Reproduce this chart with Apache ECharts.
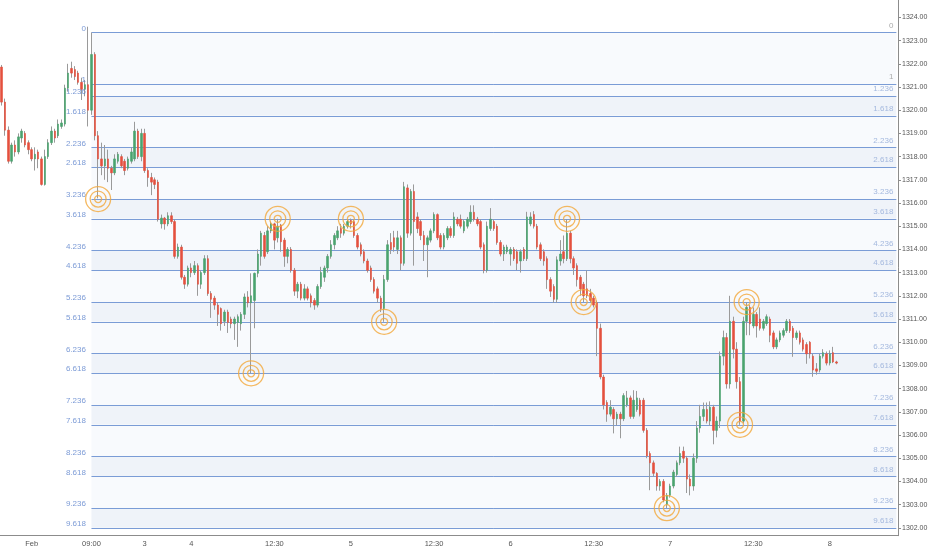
<!DOCTYPE html>
<html>
<head>
<meta charset="utf-8">
<script src="https://cdn.jsdelivr.net/npm/echarts@6/dist/echarts.min.js"></script>
<style>
  html, body { margin: 0; padding: 0; background: #fff; }
  #chart { width: 932px; height: 550px; }
</style>
</head>
<body>
<div id="chart"></div>
<script>
// 30 分钟 K 线：[开, 收, 低, 高]
var candles = [
  [1321.86,1320.35,1320.2,1321.95],[1320.35,1319.14,1318.9,1320.5],[1319.14,1317.8,1317.7,1319.3],
  [1317.8,1318.5,1317.7,1318.6],[1318.5,1318.2,1318.0,1318.7],[1318.2,1318.85,1318.1,1319.0],
  [1318.8,1319.1,1318.6,1319.2],[1319.0,1318.5,1318.4,1319.1],[1318.6,1318.3,1318.1,1318.7],
  [1318.3,1317.9,1317.8,1318.4],[1317.9,1318.1,1317.4,1318.4],[1318.2,1317.9,1317.5,1318.3],
  [1317.9,1316.8,1316.75,1318.0],[1316.8,1318.0,1316.75,1318.3],[1318.0,1318.6,1317.9,1318.75],
  [1318.6,1319.1,1318.5,1319.3],[1319.1,1318.8,1318.6,1319.2],[1318.9,1319.4,1318.8,1319.6],
  [1319.3,1319.45,1319.2,1319.6],[1319.4,1320.95,1319.3,1321.1],[1320.95,1321.6,1320.8,1322.0],
  [1321.8,1321.6,1321.4,1322.09],[1321.75,1321.45,1321.3,1321.9],[1321.6,1321.2,1321.1,1321.7],
  [1321.2,1320.9,1320.44,1321.4],[1320.9,1321.1,1320.6,1321.3],[1321.1,1320.0,1319.3,1323.6],
  [1320.0,1322.4,1319.8,1323.35],[1322.4,1318.9,1318.7,1322.5],[1318.9,1317.9,1316.2,1319.1],
  [1317.9,1317.6,1317.2,1318.6],[1317.6,1317.9,1317.0,1318.5],[1317.9,1317.5,1316.9,1318.3],
  [1317.5,1317.3,1316.56,1317.6],[1317.3,1317.9,1317.2,1318.1],[1317.8,1318.1,1317.7,1318.2],
  [1318.0,1317.6,1317.5,1318.1],[1317.8,1317.4,1317.2,1317.9],[1317.5,1317.9,1317.4,1318.0],
  [1317.8,1318.2,1317.7,1318.4],[1317.9,1319.1,1317.8,1319.5],[1319.1,1318.0,1317.9,1319.2],
  [1318.0,1319.0,1317.8,1319.2],[1319.0,1317.4,1317.3,1319.2],[1317.4,1317.1,1316.7,1317.5],
  [1317.1,1316.9,1316.34,1317.3],[1317.0,1316.8,1316.6,1317.1],[1316.9,1315.3,1315.2,1317.0],
  [1315.1,1315.35,1314.9,1315.5],[1315.35,1315.1,1314.85,1315.4],[1315.1,1315.45,1315.0,1315.6],
  [1315.45,1315.2,1315.1,1315.6],[1315.2,1313.7,1313.6,1315.3],[1313.7,1314.1,1313.6,1314.25],
  [1314.1,1312.8,1312.7,1314.2],[1312.8,1312.5,1312.3,1312.9],[1312.5,1313.2,1312.4,1313.3],
  [1313.2,1313.0,1312.8,1313.4],[1313.0,1313.3,1312.9,1313.5],[1313.3,1312.5,1312.0,1313.4],
  [1312.5,1313.0,1312.3,1313.1],[1313.0,1313.6,1312.9,1313.75],[1313.6,1312.1,1312.0,1313.75],
  [1312.1,1311.85,1311.05,1312.2],[1311.9,1311.6,1311.4,1312.0],[1311.6,1311.2,1310.7,1311.7],
  [1311.45,1310.8,1310.5,1311.5],[1310.9,1311.3,1310.7,1311.4],[1311.3,1310.85,1310.4,1311.4],
  [1311.0,1310.8,1310.6,1311.1],[1310.8,1311.0,1310.1,1311.1],[1310.85,1311.1,1309.8,1311.2],
  [1310.8,1311.2,1310.5,1311.3],[1311.2,1311.95,1311.0,1312.1],[1311.95,1311.7,1311.5,1312.2],
  [1311.7,1312.0,1308.66,1312.97],[1311.8,1312.97,1310.6,1313.0],[1312.97,1313.8,1312.8,1314.0],
  [1313.7,1314.7,1313.3,1314.8],[1314.6,1313.7,1313.6,1314.75],[1313.9,1314.8,1313.8,1315.0],
  [1314.8,1315.1,1314.7,1315.2],[1315.1,1314.4,1314.0,1315.15],[1314.5,1315.0,1314.3,1315.32],
  [1315.05,1314.33,1313.9,1315.1],[1314.4,1313.7,1313.25,1314.5],[1313.7,1314.0,1313.4,1314.1],
  [1314.0,1313.1,1313.0,1314.1],[1313.1,1312.2,1312.0,1313.2],[1312.2,1312.5,1311.9,1312.6],
  [1312.5,1311.9,1311.8,1312.6],[1311.9,1312.3,1311.8,1312.5],[1312.3,1311.9,1311.8,1312.4],
  [1312.0,1311.7,1311.5,1312.1],[1311.8,1311.6,1311.4,1311.9],[1311.6,1312.4,1311.5,1312.5],
  [1312.4,1313.0,1312.3,1313.25],[1312.8,1313.2,1312.6,1313.3],[1313.2,1313.7,1313.0,1313.8],
  [1313.7,1314.2,1313.6,1314.4],[1314.2,1314.6,1314.0,1314.7],[1314.5,1314.8,1314.4,1315.0],
  [1314.9,1314.7,1314.5,1315.1],[1314.7,1315.0,1314.6,1315.1],[1315.0,1315.2,1314.9,1315.3],
  [1315.25,1315.1,1314.9,1315.33],[1315.2,1314.6,1314.5,1315.3],[1314.6,1314.1,1314.0,1314.7],
  [1314.2,1313.8,1313.7,1314.3],[1313.9,1313.5,1313.4,1314.0],[1313.5,1313.1,1313.0,1313.6],
  [1313.2,1312.7,1312.6,1313.3],[1312.7,1312.2,1312.1,1312.8],[1312.3,1311.9,1311.7,1312.4],
  [1311.9,1311.45,1311.3,1312.0],[1311.45,1312.7,1310.88,1312.9],[1312.7,1314.2,1312.6,1314.4],
  [1314.3,1314.0,1313.8,1314.7],[1314.5,1314.1,1313.9,1314.8],[1314.0,1314.5,1313.8,1314.8],
  [1314.5,1313.4,1313.1,1314.6],[1313.4,1316.7,1313.3,1316.91],[1316.65,1314.7,1314.5,1316.8],
  [1314.7,1316.5,1314.6,1316.6],[1316.5,1315.2,1313.3,1316.8],[1315.4,1314.9,1314.7,1315.6],
  [1315.2,1314.6,1314.4,1315.3],[1314.6,1314.2,1313.5,1314.8],[1314.2,1314.5,1312.8,1314.6],
  [1314.4,1314.8,1314.3,1314.9],[1314.8,1315.5,1314.7,1315.6],[1315.5,1314.5,1314.4,1315.55],
  [1314.6,1314.1,1314.0,1314.7],[1314.1,1314.6,1314.0,1314.7],[1314.5,1314.9,1314.4,1315.0],
  [1314.9,1314.6,1314.5,1315.0],[1314.6,1315.4,1314.5,1315.6],[1315.3,1315.1,1315.0,1315.4],
  [1315.3,1315.0,1314.9,1315.5],[1314.8,1315.2,1314.7,1315.3],[1315.0,1315.3,1314.9,1315.4],
  [1315.2,1315.6,1315.1,1315.9],[1315.6,1315.3,1315.2,1315.9],[1315.3,1315.1,1315.0,1315.4],
  [1315.2,1314.1,1314.0,1315.3],[1314.2,1313.1,1312.97,1314.3],[1313.1,1315.0,1313.0,1315.2],
  [1314.9,1315.3,1314.8,1315.78],[1315.2,1314.9,1314.8,1315.3],[1315.0,1314.3,1314.2,1315.1],
  [1314.3,1313.8,1313.7,1314.4],[1313.8,1314.1,1313.5,1314.2],[1313.9,1314.1,1313.8,1314.2],
  [1313.8,1314.0,1313.3,1314.1],[1314.0,1313.6,1313.5,1314.1],[1313.9,1313.4,1313.1,1314.0],
  [1313.5,1313.9,1313.0,1314.0],[1314.0,1313.6,1313.5,1314.1],[1313.6,1315.4,1313.5,1315.62],
  [1315.1,1315.4,1315.0,1315.6],[1315.5,1315.0,1314.9,1315.65],[1315.0,1314.1,1314.0,1315.1],
  [1314.2,1313.6,1313.5,1314.3],[1313.9,1313.5,1313.3,1314.0],[1313.6,1312.7,1312.3,1313.7],
  [1312.7,1312.2,1311.95,1312.8],[1312.4,1311.85,1311.7,1312.5],[1311.85,1313.55,1311.7,1313.7],
  [1313.5,1313.8,1313.3,1314.4],[1313.9,1313.6,1313.4,1314.6],[1313.6,1314.7,1313.5,1315.3],
  [1314.7,1313.6,1313.4,1314.8],[1313.6,1313.2,1312.9,1313.7],[1313.3,1312.7,1312.4,1313.4],
  [1312.8,1312.3,1312.0,1312.9],[1312.5,1312.0,1311.73,1312.6],[1312.3,1312.0,1311.9,1313.1],
  [1312.1,1311.8,1311.7,1312.3],[1311.9,1311.6,1311.5,1312.0],[1311.7,1310.6,1309.4,1311.8],
  [1310.6,1308.5,1308.4,1310.8],[1308.5,1307.3,1307.1,1308.6],[1307.4,1306.9,1306.57,1307.5],
  [1306.9,1307.2,1306.8,1307.5],[1307.1,1306.7,1306.07,1307.2],[1306.7,1306.9,1306.4,1307.0],
  [1306.9,1306.7,1305.86,1307.0],[1306.7,1307.7,1306.6,1307.8],[1307.3,1307.6,1307.2,1307.9],
  [1307.6,1306.8,1306.7,1307.7],[1306.8,1307.5,1306.7,1307.93],[1307.1,1307.6,1307.0,1307.9],
  [1307.5,1306.9,1306.8,1307.6],[1307.5,1306.2,1306.1,1307.6],[1306.2,1305.1,1305.0,1306.3],
  [1305.2,1304.8,1303.62,1305.3],[1304.8,1304.35,1304.2,1304.9],[1304.35,1303.8,1303.6,1304.4],
  [1303.8,1304.0,1303.6,1304.1],[1304.0,1303.2,1303.1,1304.1],[1303.0,1303.4,1302.85,1303.5],
  [1303.4,1303.8,1303.3,1303.9],[1303.8,1304.4,1303.7,1304.5],[1304.3,1304.8,1304.2,1304.9],
  [1304.8,1305.2,1304.7,1305.5],[1305.3,1305.0,1304.8,1305.5],[1305.0,1304.1,1303.5,1305.1],
  [1304.1,1303.8,1303.4,1304.3],[1303.8,1305.0,1303.6,1305.2],[1305.0,1306.3,1304.8,1306.6],
  [1306.3,1306.8,1306.1,1307.3],[1306.8,1307.1,1306.6,1307.4],[1307.1,1306.6,1306.5,1307.4],
  [1306.6,1307.2,1306.4,1307.45],[1307.2,1306.2,1305.6,1307.3],[1306.2,1306.6,1305.9,1306.8],
  [1306.6,1309.4,1306.3,1309.6],[1309.4,1310.2,1309.0,1310.5],[1310.2,1308.2,1308.0,1310.4],
  [1308.2,1310.9,1308.0,1312.0],[1310.9,1309.7,1309.3,1311.1],[1309.7,1308.3,1308.0,1310.0],
  [1308.3,1306.6,1306.44,1308.5],[1306.6,1310.9,1306.5,1311.1],[1310.9,1311.5,1310.3,1311.73],
  [1311.5,1310.8,1310.3,1311.6],[1310.7,1311.2,1310.6,1311.5],[1311.2,1310.7,1310.2,1311.3],
  [1311.0,1310.6,1310.5,1311.5],[1310.6,1310.9,1310.5,1311.0],[1310.8,1311.1,1310.7,1311.2],
  [1311.0,1310.3,1310.0,1311.1],[1310.4,1309.8,1309.7,1310.5],[1309.8,1310.1,1309.7,1310.2],
  [1310.1,1310.4,1310.0,1310.5],[1310.3,1310.5,1310.2,1310.6],[1310.5,1310.9,1310.4,1311.0],
  [1310.9,1310.5,1310.4,1311.0],[1310.6,1310.2,1309.37,1310.7],[1310.2,1310.4,1310.1,1310.5],
  [1310.4,1310.0,1309.9,1310.5],[1310.1,1309.7,1309.6,1310.2],[1309.9,1309.5,1309.07,1310.0],
  [1310.0,1309.5,1309.3,1310.05],[1309.4,1308.8,1308.51,1309.5],[1308.85,1308.75,1308.6,1309.1],
  [1308.8,1309.4,1308.7,1309.5],[1309.4,1309.55,1309.3,1309.7],[1309.5,1309.1,1309.0,1309.6],
  [1309.1,1309.5,1309.0,1309.65],[1309.55,1309.15,1309.1,1309.8],[1309.15,1309.1,1309.05,1309.2]
];

// 横轴刻度
var barCount = 270;
var tickIdx = [9, 27, 43, 57, 82, 105, 130, 153, 178, 201, 226, 249];
var tickText = ['Feb', '09:00', '3', '4', '12:30', '5', '12:30', '6', '12:30', '7', '12:30', '8'];

// 斐波那契扩展线
var fibRatios = ['0', '1', '1.236', '1.618', '2.236', '2.618', '3.236', '3.618', '4.236', '4.618',
  '5.236', '5.618', '6.236', '6.618', '7.236', '7.618', '8.236', '8.618', '9.236', '9.618'];
var fibPrices = [1323.35, 1321.13, 1320.61, 1319.76, 1318.39, 1317.54, 1316.17, 1315.32, 1313.95, 1313.10,
  1311.73, 1310.88, 1309.51, 1308.66, 1307.29, 1306.44, 1305.07, 1304.22, 1302.85, 1302.00];
var fibStart = 27;
var fibEnd = 269;

// 圆环标记
var ringIdx = [29, 75, 83, 105, 115, 170, 175, 200, 222, 224];
var ringPrice = [1316.17, 1308.66, 1315.32, 1315.32, 1310.88, 1315.32, 1311.73, 1302.85, 1306.44, 1311.73];

var categories = [];
for (var i = 0; i < barCount; i++) categories.push('');
tickIdx.forEach(function (k, j) { categories[k] = tickText[j]; });

function showTick(index, value) { return value !== ''; }

// 只画实体的那一层（影线在下面那层灰色的里）
var bodies = candles.map(function (d) {
  return [d[0], d[1], Math.min(d[0], d[1]), Math.max(d[0], d[1])];
});

var fibLines = fibPrices.map(function (p, k) {
  var plain = fibRatios[k] === '0' || fibRatios[k] === '1';
  return [
    { coord: [fibStart, p], name: fibRatios[k], label: { color: plain ? '#aaaaaa' : '#a3b8de' } },
    { coord: [fibEnd, p] }
  ];
});

// x.236 到 x.618 之间颜色深一点
var bands = [];
for (var k = 0; k < fibPrices.length - 1; k++) {
  var dark = k >= 2 && k % 2 === 0;
  bands.push([
    { coord: [fibStart, fibPrices[k]], itemStyle: { color: dark ? '#eff3f9' : '#f8fafd' } },
    { coord: [fibEnd, fibPrices[k + 1]] }
  ]);
}

function ring(size) {
  return {
    type: 'scatter',
    data: ringIdx.map(function (x, j) { return [x, ringPrice[j]]; }),
    symbol: 'circle',
    symbolSize: size,
    itemStyle: { color: 'rgba(0,0,0,0)', borderColor: '#f2a83a', borderWidth: 1.3 },
    silent: true,
    z: 10
  };
}

var myChart = echarts.init(document.getElementById('chart'));

var option = {
  animation: false,
  backgroundColor: '#ffffff',
  grid: { left: 0, right: 34, top: 0, bottom: 14.3, containLabel: false, outerBoundsMode: 'none' },
  xAxis: {
    type: 'category',
    data: categories,
    boundaryGap: true,
    axisLine: { lineStyle: { color: '#8c8c8c' } },
    axisTick: { interval: showTick, alignWithLabel: true, length: 3, lineStyle: { color: '#8c8c8c' } },
    axisLabel: { interval: showTick, fontSize: 7.5, color: '#555555', margin: 4, fontFamily: 'Liberation Sans' },
    splitLine: { show: false }
  },
  yAxis: {
    type: 'value',
    position: 'right',
    min: 1301.66,
    max: 1324.75,
    splitNumber: 22,
    axisLine: { show: true, lineStyle: { color: '#8c8c8c' } },
    axisTick: { show: true, length: 3, lineStyle: { color: '#8c8c8c' } },
    axisLabel: {
      fontSize: 7, color: '#555555', margin: 4, fontFamily: 'Liberation Sans',
      showMinLabel: false, showMaxLabel: false,
      formatter: function (v) { return v.toFixed(2); }
    },
    splitLine: { show: false }
  },
  series: [
    {
      type: 'candlestick',
      data: candles,
      barWidth: 1,
      itemStyle: { color: '#9a9a9a', color0: '#9a9a9a', borderColor: '#9a9a9a', borderColor0: '#9a9a9a', borderWidth: 1 },
      markArea: {
        silent: true,
        z: 1,
        itemStyle: { borderWidth: 0 },
        data: bands
      },
      markLine: {
        silent: true,
        z: 1.5,
        symbol: ['none', 'none'],
        lineStyle: { color: '#7a9cd6', width: 1, type: 'solid' },
        label: {
          show: true, position: 'insideEndTop', distance: 3,
          formatter: '{b}', fontSize: 8, fontFamily: 'Liberation Sans'
        },
        data: fibLines
      },
      z: 3
    },
    {
      type: 'candlestick',
      data: bodies,
      barWidth: 2,
      itemStyle: { color: '#4aa36e', color0: '#e4503e', borderColor: '#4aa36e', borderColor0: '#e4503e', borderWidth: 0.6 },
      z: 4
    },
    {
      type: 'scatter',
      data: fibPrices.map(function (p) { return [fibStart, p]; }),
      symbolSize: 1,
      itemStyle: { color: 'rgba(0,0,0,0)' },
      silent: true,
      label: {
        show: true, position: 'left', distance: 5, offset: [0, -4],
        color: '#5b82cc', fontSize: 8, fontFamily: 'Liberation Sans',
        formatter: function (p) { return fibRatios[p.dataIndex]; }
      },
      z: 5
    },
    ring(7),
    ring(16),
    ring(25)
  ]
};

myChart.setOption(option);
</script>
</body>
</html>
